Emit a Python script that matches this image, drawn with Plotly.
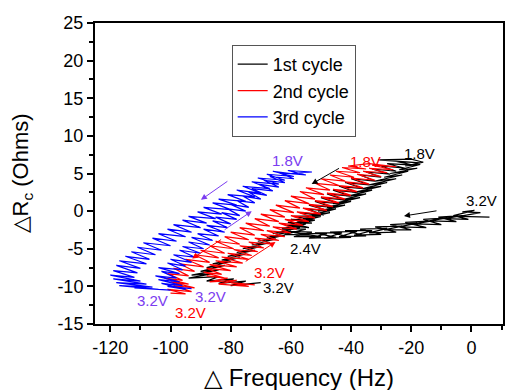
import plotly.graph_objects as go

# ---------------- data ----------------
cycle1 = [  # 1st cycle (black): 3.2V -> 2.4V -> 1.8V -> 3.2V
    (6,-0.8),(-4,-0.7),(3,-0.2),(-3,-0.1),(1,0.1),(-6,-0.6),(-1,-1.1),(-9,-1.0),(-3,-0.6),(-11,-0.8),
    (-5,-1.4),(-14,-1.3),(-8,-0.9),(-16,-1.1),(-10,-1.8),(-19,-1.7),(-13,-1.3),(-22,-1.5),(-15,-2.2),(-24,-2.1),
    (-18,-1.6),(-27,-1.8),(-20,-2.5),(-29,-2.5),(-23,-2.0),(-32,-2.1),(-25,-2.8),(-34,-2.9),(-28,-2.3),(-37,-2.4),
    (-30,-3.1),(-39,-3.2),(-33,-2.6),(-42,-2.6),(-35,-3.3),(-44,-3.4),(-38,-2.7),(-47,-2.8),(-40,-3.5),(-49,-3.6),
    (-43,-2.9),(-52,-2.9),(-45,-3.5),(-54,-3.6),(-48,-3.0),(-57,-3.0),(-50,-3.4),(-59,-3.4),(-53,-2.8),(-61,-2.7),
    (-54,-3.2),(-62,-3.1),(-55,-2.4),(-63,-2.3),(-56,-1.9),(-62,-1.9),(-54,-2.2),(-61,-1.5),(-53,-1.6),(-60,-1.1),
    (-52,-1.2),(-59,-0.7),
    (-50,-0.6),(-57,-0.2),(-49,-0.5),(-55,0.3),(-47,0.0),(-54,0.8),(-46,0.5),(-52,1.3),(-44,1.0),(-50,1.8),
    (-42,1.5),(-48,2.3),(-40,2.0),(-46,2.8),(-38,2.5),(-44,3.3),(-36,3.0),(-42,3.8),(-34,3.5),(-40,4.3),
    (-32,4.0),(-37,4.8),(-30,4.5),(-35,5.2),(-27,4.9),(-33,5.6),(-25,5.3),(-30,6.0),(-22,5.7),(-28,6.3),
    (-19,6.1),(-25,6.6),(-17,6.4),(-31,6.8),(-20,6.9),(-16,6.5),
    (-22,6.0),(-17,6.2),(-24,5.5),(-18,5.7),(-27,5.0),(-21,5.3),(-29,4.5),(-23,4.8),(-32,4.0),(-25,4.3),
    (-34,3.5),(-28,3.8),(-36,3.0),(-30,3.3),(-39,2.5),(-33,2.8),(-41,2.0),(-35,2.3),(-43,1.5),(-37,1.8),
    (-46,1.0),(-40,1.3),(-48,0.5),(-42,0.8),(-51,0.0),(-45,0.3),(-53,-0.5),(-47,-0.2),(-56,-1.0),(-50,-0.7),
    (-58,-1.5),(-52,-1.2),(-61,-2.0),(-55,-1.7),(-63,-2.5),(-57,-2.2),(-66,-3.0),(-60,-2.7),(-68,-3.5),(-62,-3.2),
    (-71,-4.0),(-65,-3.7),(-73,-4.5),(-67,-4.2),(-76,-5.0),(-70,-4.7),(-78,-5.5),(-72,-5.2),(-81,-6.0),(-75,-5.7),
    (-83,-6.5),(-77,-6.2),(-86,-7.0),(-80,-6.7),(-88,-7.5),(-82,-7.2),(-90,-8.0),(-84,-7.8),(-93,-8.5),(-86,-8.3),
    (-94,-8.9),(-84,-8.7),(-88,-9.3),(-79,-9.0),(-84,-9.6),(-75,-9.3),(-80,-9.9),(-71,-9.6),(-77,-9.7),(-70,-9.5),
]
cycle2 = [  # 2nd cycle (red)
    (-72,-9.8),(-80,-9.5),(-74,-10.0),(-84,-9.7),(-78,-9.2),(-87,-9.4),(-81,-8.9),
    (-88,-8.6),(-82,-8.9),(-89,-8.1),(-83,-8.4),(-88,-7.6),(-80,-7.9),(-87,-7.1),(-78,-7.4),(-85,-6.6),
    (-76,-6.9),(-83,-6.1),(-74,-6.4),(-81,-5.6),(-73,-5.9),(-79,-5.1),(-71,-5.4),(-77,-4.6),(-69,-4.9),(-74,-4.1),
    (-66,-4.4),(-72,-3.6),(-64,-3.9),(-70,-3.1),(-62,-3.4),(-68,-2.6),(-60,-2.9),(-66,-2.1),(-58,-2.4),(-64,-1.6),
    (-56,-1.9),(-62,-1.1),(-54,-1.4),(-60,-0.6),(-52,-0.9),(-58,-0.1),(-50,-0.4),(-56,0.4),(-48,0.1),(-54,0.9),
    (-46,0.6),(-52,1.4),(-44,1.1),(-50,1.9),(-42,1.6),(-48,2.4),(-40,2.1),(-46,2.9),(-38,2.6),(-44,3.4),
    (-36,3.1),(-42,3.9),(-34,3.6),(-40,4.4),(-32,4.1),(-38,4.9),(-30,4.6),(-36,5.3),(-28,5.1),(-34,5.7),
    (-26,5.5),(-33,6.1),(-25,5.9),
    (-34,6.3),(-41,6.0),(-35,5.6),(-43,5.8),(-37,5.1),(-45,5.3),(-39,4.5),(-47,4.8),(-42,4.0),(-50,4.3),
    (-44,3.4),(-52,3.7),(-47,2.8),(-55,3.1),(-49,2.2),(-57,2.6),(-52,1.6),(-60,2.0),(-54,1.0),(-62,1.4),
    (-57,0.4),(-65,0.8),(-59,-0.2),(-67,0.2),(-62,-0.8),(-70,-0.4),(-64,-1.4),(-72,-1.0),(-67,-2.0),(-75,-1.6),
    (-69,-2.6),(-77,-2.2),(-72,-3.2),(-80,-2.8),(-74,-3.8),(-82,-3.4),(-77,-4.4),(-85,-4.0),(-79,-5.0),(-87,-4.6),
    (-82,-5.6),(-90,-5.2),(-84,-6.2),(-92,-5.8),(-87,-6.8),(-95,-6.4),(-89,-7.4),(-97,-7.0),(-92,-8.0),(-99,-7.6),
    (-94,-8.6),(-101,-8.3),(-96,-9.2),(-102,-8.9),(-94,-9.7),(-100,-9.4),(-92,-10.2),(-99,-9.9),(-93,-10.7),(-101,-10.4),
    (-95,-11.0),(-100,-10.9),
]
cycle3 = [  # 3rd cycle (blue)
    (-93,-10.3),(-101,-10.0),(-95,-10.4),(-103,-9.6),(-96,-9.9),(-104,-9.1),(-97,-9.4),(-105,-8.6),(-98,-8.9),(-103,-8.0),
    (-97,-8.3),(-104,-7.5),(-96,-7.8),(-101,-6.9),(-95,-7.3),(-100,-6.4),(-93,-6.8),(-99,-5.8),(-92,-6.1),(-97,-5.2),
    (-90,-5.6),(-96,-4.7),(-89,-5.0),(-94,-4.1),(-87,-4.5),(-93,-3.5),(-86,-3.9),(-91,-3.0),(-84,-3.3),(-89,-2.4),
    (-82,-2.8),(-88,-1.9),(-81,-2.2),(-86,-1.3),(-80,-1.7),(-85,-0.8),(-78,-1.1),(-83,-0.2),(-77,-0.6),(-81,0.3),
    (-75,0.0),(-80,0.9),(-74,0.5),(-78,1.4),(-72,1.1),(-76,2.0),(-70,1.6),(-74,2.5),(-68,2.1),(-73,3.0),
    (-66,2.7),(-71,3.6),(-64,3.2),(-69,4.1),(-62,3.8),(-67,4.6),(-59,4.3),(-64,5.1),(-55,4.8),(-61,5.4),
    (-53,5.2),
    (-60,5.0),(-66,5.3),(-59,4.6),(-68,4.9),(-62,4.1),(-71,4.4),(-64,3.6),(-73,3.9),(-67,3.0),(-76,3.3),
    (-70,2.4),(-78,2.8),(-72,1.9),(-81,2.2),(-75,1.3),(-84,1.6),(-78,0.8),(-86,1.1),(-80,0.2),(-89,0.5),
    (-83,-0.4),(-91,-0.1),(-85,-1.0),(-94,-0.7),(-88,-1.6),(-96,-1.2),(-90,-2.2),(-99,-1.8),(-93,-2.8),(-101,-2.4),
    (-95,-3.4),(-104,-3.0),(-98,-4.0),(-106,-3.6),(-100,-4.6),(-109,-4.2),(-103,-5.2),(-111,-4.8),(-105,-5.8),(-113,-5.4),
    (-107,-6.4),(-115,-6.0),(-108,-7.0),(-117,-6.6),(-110,-7.6),(-118,-7.2),(-111,-8.2),(-119,-7.9),(-112,-8.8),(-120,-8.5),
    (-110,-9.3),(-119,-9.0),(-108,-9.7),(-118,-9.5),(-106,-10.1),(-117,-9.9),(-104,-10.4),(-112,-10.2),(-100,-10.5),(-108,-10.3),
]
series_names = ["1st cycle", "2nd cycle", "3rd cycle"]
series_colors = ["#000000", "#ff0000", "#0000ff"]

# voltage labels: (text, x, y, colour)
labels = [
    ("1.8V", -61.2, 6.7, "#7b3cf0"),
    ("1.8V", -35.2, 6.6, "#ff0000"),
    ("1.8V", -17.2, 7.7, "#000000"),
    ("3.2V", 3.5, 1.4, "#000000"),
    ("2.4V", -55.0, -4.9, "#000000"),
    ("3.2V", -67.2, -8.2, "#ff0000"),
    ("3.2V", -64.2, -10.2, "#000000"),
    ("3.2V", -86.6, -11.3, "#7b3cf0"),
    ("3.2V", -105.9, -11.9, "#7b3cf0"),
    ("3.2V", -93.3, -13.5, "#ff0000"),
]
# arrows: (x_tail, y_tail, x_head, y_head, colour)
arrows = [
    (-80.6, 4.1, -89.9, 1.5, "#7b3cf0"),
    (-82.5, -2.6, -73.0, 0.0, "#7b3cf0"),
    (-82.7, -3.65, -92.8, -6.3, "#ff0000"),
    (-75.5, -6.8, -65.1, -4.1, "#ff0000"),
    (-43.5, 5.8, -53.1, 3.6, "#000000"),
    (-11.1, 0.07, -22.4, -0.64, "#000000"),
]

x_ticks = [-120, -100, -80, -60, -40, -20, 0]
y_ticks = [-15, -10, -5, 0, 5, 10, 15, 20, 25]
x_title = "△ Frequency (Hz)"
y_title = "△R<sub>c</sub> (Ohms)"

FONT = "Liberation Sans, Arial, sans-serif"

fig = go.Figure()
for name, col, data in zip(series_names, series_colors, [cycle1, cycle2, cycle3]):
    fig.add_trace(go.Scatter(
        x=[p[0] for p in data], y=[p[1] for p in data], mode="lines", name=name,
        line=dict(color=col, width=1.2),
    ))

for text, x, y, col in labels:
    fig.add_annotation(x=x, y=y, text=text, showarrow=False, xref="x", yref="y",
                       font=dict(family=FONT, size=15, color=col))
for xt, yt, xh, yh, col in arrows:
    fig.add_annotation(x=xh, y=yh, ax=xt, ay=yt, xref="x", yref="y", axref="x", ayref="y",
                       text="", showarrow=True, arrowhead=2, arrowsize=1.2, arrowwidth=1,
                       arrowcolor=col)

# axis titles placed in paper coordinates
fig.add_annotation(x=0.5, y=-0.179, xref="paper", yref="paper", text=x_title,
                   showarrow=False, xanchor="center", yanchor="middle",
                   font=dict(family=FONT, size=24, color="black"))
fig.add_annotation(x=-0.179, y=0.5, xref="paper", yref="paper", text=y_title,
                   showarrow=False, xanchor="center", yanchor="middle", textangle=-90,
                   font=dict(family=FONT, size=22, color="black"))

fig.update_layout(
    width=505, height=390,
    margin=dict(l=95, r=2, t=23, b=66, autoexpand=False),
    paper_bgcolor="white", plot_bgcolor="white",
    font=dict(family=FONT, size=18, color="black"),
    showlegend=True,
    legend=dict(x=0.335, y=0.927, xanchor="left", yanchor="top",
                bordercolor="#555555", borderwidth=1, bgcolor="white",
                font=dict(size=18), tracegroupgap=0, itemwidth=30),
)
fig.update_xaxes(
    range=[-125.1, 10.5], tickvals=x_ticks, ticktext=[str(v) for v in x_ticks],
    ticks="outside", ticklen=6, tickwidth=2, tickcolor="black", automargin=False,
    showline=True, linewidth=2, linecolor="black", mirror=True,
    showgrid=False, zeroline=False,
    minor=dict(dtick=10, tick0=0, ticks="outside", ticklen=4, tickwidth=2, tickcolor="black"),
)
fig.update_yaxes(
    range=[-15, 25], tickvals=y_ticks, ticktext=[str(v) for v in y_ticks],
    ticks="outside", ticklen=6, tickwidth=2, tickcolor="black", automargin=False,
    showline=True, linewidth=2, linecolor="black", mirror=True,
    showgrid=False, zeroline=False,
    minor=dict(dtick=2.5, tick0=0, ticks="outside", ticklen=4, tickwidth=2, tickcolor="black"),
)
fig.write_html("out.html", config={"displayModeBar": False},
               post_script="document.body.style.margin='0px';document.body.style.overflow='hidden';")
